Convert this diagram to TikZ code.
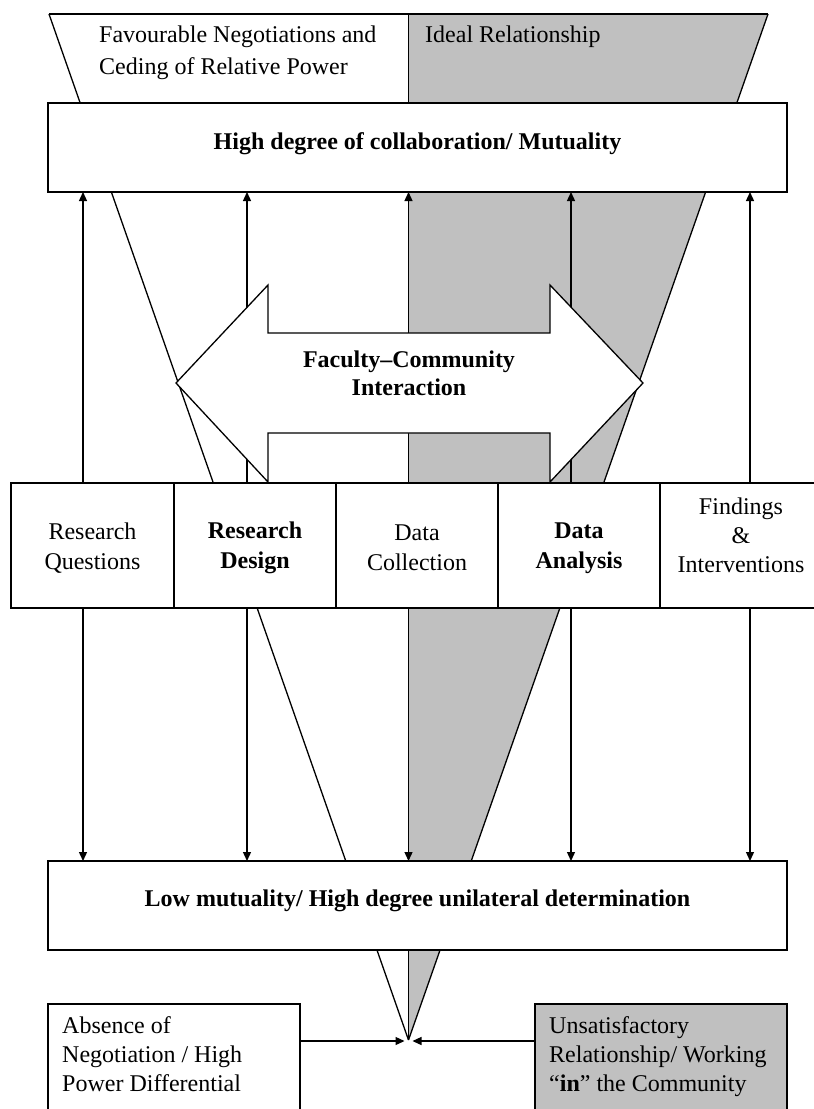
\documentclass[tikz,border=0pt]{standalone}
\usepackage{fontspec}
\setmainfont{Liberation Serif}
\usetikzlibrary{arrows.meta}
\definecolor{silv}{RGB}{192,192,192}
\tikzset{
  ln/.style={line width=1.3pt},
  arr/.style={ln,-{Triangle[length=9pt,width=8pt]}},
  boxn/.style={draw,ln,fill=white,rectangle,inner sep=0pt,outer sep=0pt},
  txt/.style={font=\fontsize{24}{29}\selectfont,inner sep=0pt},
  stepbox/.style={boxn,align=center,minimum height=125pt,font=\fontsize{24}{30}\selectfont},
  steptxtb/.style={font=\fontsize{24}{30}\selectfont\bfseries},
}
\begin{document}
\begin{tikzpicture}[x=1pt,y=-1pt]
\useasboundingbox (0,0) rectangle (814,1109);
\clip (0,0) rectangle (814,1109);
\fill[white] (0,0) rectangle (814,1109);
% funnel
\coordinate (f1) at (49,14);
\coordinate (f2) at (408.5,14);
\coordinate (f3) at (768,14);
\coordinate (fb) at (408.5,1040);
\fill[silv] (f2) -- (f3) -- (fb) -- cycle;
\draw[ln] (f1) -- (f3);
\draw[ln] (f1) -- (fb);
\draw[ln] (f3) -- (fb);
\draw[ln] (f2) -- (fb);
% top texts
\node[txt,font=\fontsize{24}{32}\selectfont,anchor=north west,align=left] (tl) at (99,26) {Favourable Negotiations and\\Ceding of Relative Power};
\node[txt,anchor=north west,align=left] (tr) at (425,26) {Ideal Relationship};
% boxes
\node[boxn,minimum width=739pt,minimum height=89pt] (high) at (417.5,147.5) {};
\node[txt,font=\fontsize{24}{29}\selectfont\bfseries] (hight) at (417.5,144) {High degree of collaboration/ Mutuality};
\node[boxn,minimum width=739pt,minimum height=89pt] (low) at (417.5,905.5) {};
\node[txt,font=\fontsize{24}{29}\selectfont\bfseries] (lowt) at (417.5,901) {Low mutuality/ High degree unilateral determination};
\node[stepbox,minimum width=163pt] (s1) at (92.5,545.5) {};
\node[stepbox,minimum width=162pt] (s2) at (255,545.5) {};
\node[stepbox,minimum width=162pt] (s3) at (417,545.5) {};
\node[stepbox,minimum width=162pt] (s4) at (579,545.5) {};
\node[stepbox,minimum width=162pt] (s5) at (741,545.5) {};
\node[txt,align=center,font=\fontsize{24}{30}\selectfont] (t1) at (92.5,548) {Research\\Questions};
\node[txt,align=center,steptxtb] (t2) at (255,548) {Research\\Design};
\node[txt,align=center,font=\fontsize{24}{30}\selectfont] (t3) at (417,548) {Data\\Collection};
\node[txt,align=center,steptxtb] (t4) at (579,548) {Data\\Analysis};
\node[txt,align=center,font=\fontsize{24}{29}\selectfont] (t5) at (741,535) {Findings\\\&\\Interventions};
% vertical arrows
\foreach \i/\x in {1/83,2/247,3/408.5,4/571,5/750}{
  \coordinate (a\i) at (\x,0);
  \draw[arr] (s\i.north -| a\i) -- (high.south -| a\i);
  \draw[arr] (s\i.south -| a\i) -- (low.north -| a\i);
}
% double arrow
\draw[ln,fill=white] (176,383) -- (268,285) -- (268,333) -- (550,333) -- (550,285) -- (643,383) -- (550,482) -- (550,433) -- (268,433) -- (268,482) -- cycle;
\node[txt,align=center,font=\fontsize{24}{28}\selectfont\bfseries] (fci) at (409,373) {Faculty--Community\\Interaction};
% bottom boxes
\node[boxn,minimum width=252pt,minimum height=120pt,anchor=north west] (bl) at (48,1004) {};
\node[boxn,fill=silv,minimum width=252pt,minimum height=120pt,anchor=north west] (br) at (535,1004) {};
\node[txt,anchor=north west,align=left] (blt) at (62,1016.5) {Absence of\\Negotiation / High\\Power Differential};
\node[txt,anchor=north west,align=left] (brt) at (549,1016.5) {Unsatisfactory\\Relationship/ Working\\“\textbf{in}” the Community};
\coordinate (ml) at (404.5,1041);
\coordinate (mr) at (412.5,1041);
\draw[arr] (bl.east |- ml) -- (ml);
\draw[arr] (br.west |- mr) -- (mr);
\end{tikzpicture}
\end{document}
